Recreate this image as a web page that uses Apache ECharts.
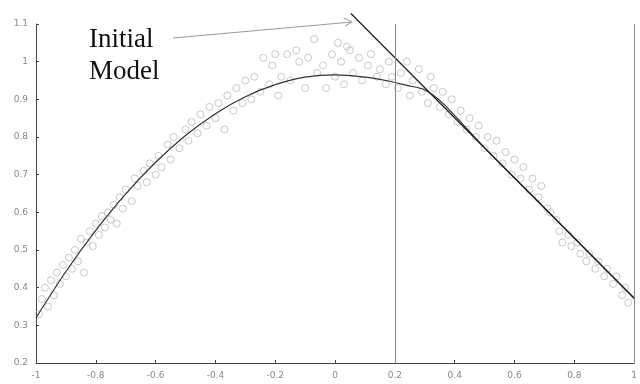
<!DOCTYPE html>
<html>
<head>
<meta charset="utf-8">
<script src="https://cdn.jsdelivr.net/npm/echarts@6/dist/echarts.min.js"></script>
<style>
  html, body { margin: 0; padding: 0; background: #fff; }
  #chart { width: 640px; height: 384px; }
</style>
</head>
<body>
<div id="chart"></div>
<script>
// noisy samples (circles)
var sampleX = [
  -0.99, -0.98, -0.97, -0.96, -0.95, -0.94, -0.93, -0.92, -0.91, -0.90,
  -0.89, -0.88, -0.87, -0.86, -0.85, -0.84, -0.83, -0.82, -0.81, -0.80,
  -0.79, -0.78, -0.77, -0.76, -0.75, -0.74, -0.73, -0.72, -0.71, -0.70,
  -0.68, -0.67, -0.66, -0.64, -0.63, -0.62, -0.60, -0.59, -0.58, -0.56,
  -0.55, -0.54, -0.52, -0.50, -0.49, -0.48, -0.46, -0.45, -0.43, -0.42,
  -0.40, -0.39, -0.37, -0.36, -0.34, -0.33, -0.31, -0.30, -0.28, -0.27,
  -0.25, -0.24, -0.22, -0.21, -0.20, -0.19, -0.18, -0.16, -0.15, -0.13,
  -0.12, -0.10, -0.09, -0.07, -0.06, -0.04, -0.03, -0.01, 0.00, 0.01,
  0.02, 0.03, 0.04, 0.05, 0.06, 0.08, 0.09, 0.11, 0.12, 0.14,
  0.15, 0.17, 0.18, 0.19,
  0.21, 0.22, 0.24, 0.25, 0.26, 0.28, 0.29, 0.31, 0.32, 0.33,
  0.35, 0.36, 0.38, 0.39, 0.41, 0.42, 0.44, 0.45, 0.47, 0.48,
  0.50, 0.51, 0.53, 0.54, 0.56, 0.57, 0.59, 0.60, 0.62, 0.63,
  0.65, 0.66, 0.68, 0.69, 0.71, 0.72, 0.74, 0.75, 0.76, 0.78,
  0.79, 0.81, 0.82, 0.84, 0.85, 0.87, 0.88, 0.90, 0.91, 0.93,
  0.94, 0.96, 0.97, 0.98
];
var sampleY = [
  0.33, 0.37, 0.40, 0.35, 0.42, 0.38, 0.44, 0.41, 0.46, 0.43,
  0.48, 0.45, 0.50, 0.47, 0.53, 0.44, 0.52, 0.55, 0.51, 0.57,
  0.54, 0.59, 0.56, 0.60, 0.58, 0.62, 0.57, 0.64, 0.61, 0.66,
  0.63, 0.69, 0.67, 0.71, 0.68, 0.73, 0.70, 0.75, 0.72, 0.78,
  0.74, 0.80, 0.77, 0.82, 0.79, 0.84, 0.81, 0.86, 0.83, 0.88,
  0.85, 0.89, 0.82, 0.91, 0.87, 0.93, 0.89, 0.95, 0.90, 0.96,
  0.92, 1.01, 0.94, 0.99, 1.02, 0.91, 0.96, 1.02, 0.95, 1.03,
  1.00, 0.93, 1.01, 1.06, 0.97, 0.99, 0.93, 1.02, 0.96, 1.05,
  1.00, 0.94, 1.04, 1.03, 0.97, 1.01, 0.95, 0.99, 1.02, 0.96,
  0.98, 0.94, 1.00, 0.96,
  0.93, 0.97, 1.00, 0.91, 0.95, 0.98, 0.92, 0.89, 0.96, 0.93,
  0.88, 0.92, 0.86, 0.90, 0.84, 0.87, 0.82, 0.85, 0.80, 0.83,
  0.77, 0.80, 0.75, 0.79, 0.73, 0.76, 0.70, 0.74, 0.69, 0.72,
  0.66, 0.69, 0.64, 0.67, 0.61, 0.60, 0.58, 0.55, 0.52, 0.54,
  0.51, 0.52, 0.49, 0.47, 0.49, 0.45, 0.47, 0.43, 0.45, 0.41,
  0.43, 0.38, 0.40, 0.36
];

// fitted model curve
var fitX = [-1.0, -0.9, -0.8, -0.7, -0.6, -0.5, -0.4, -0.3, -0.2, -0.1, 0.0, 0.1, 0.17, 0.24, 0.3, 0.36, 0.5, 0.7, 0.9, 1.0];
var fitY = [0.32, 0.443, 0.552, 0.649, 0.733, 0.804, 0.862, 0.907, 0.939, 0.959, 0.965, 0.959, 0.95, 0.937, 0.925, 0.89, 0.771, 0.612, 0.452, 0.372];

// initial model (straight line)
var initX = [0.053, 1.0];
var initY = [1.128, 0.372];

// vertical split lines
var splitX = [0.2, 1];

function zip(xs, ys) {
    var arr = [];
    for (var i = 0; i < xs.length; i++) {
        arr.push([xs[i], ys[i]]);
    }
    return arr;
}

var chart = echarts.init(document.getElementById('chart'));

var option = {
    animation: false,
    grid: { left: 36, right: 3, top: 24, bottom: 21 },
    xAxis: {
        type: 'value',
        min: -1, max: 1, interval: 0.2,
        axisLine: { onZero: false, lineStyle: { color: '#444', width: 1 } },
        axisTick: { inside: true, length: 3, lineStyle: { color: '#444' } },
        axisLabel: { color: '#888', fontSize: 9, margin: 8, fontFamily: 'DejaVu Sans' },
        splitLine: { show: false }
    },
    yAxis: {
        type: 'value',
        min: 0.2, max: 1.1, interval: 0.1,
        axisLine: { show: true, onZero: false, lineStyle: { color: '#444', width: 1 } },
        axisTick: { show: true, inside: true, length: 3, lineStyle: { color: '#444' } },
        axisLabel: { color: '#888', fontSize: 9, margin: 8, fontFamily: 'DejaVu Sans' },
        splitLine: { show: false }
    },
    series: [
        {
            type: 'scatter',
            data: zip(sampleX, sampleY),
            symbol: 'circle',
            symbolSize: 7,
            silent: true,
            itemStyle: { color: 'rgba(0,0,0,0)', borderColor: '#aaa', borderWidth: 0.8 },
            markLine: {
                silent: true,
                symbol: ['none', 'none'],
                label: { show: false },
                lineStyle: { color: '#888', type: 'solid', width: 1 },
                data: splitX.map(function (v) { return { xAxis: v }; })
            }
        },
        {
            type: 'line',
            data: zip(fitX, fitY),
            showSymbol: false,
            smooth: 0.3,
            silent: true,
            lineStyle: { color: '#333', width: 1.2 }
        },
        {
            type: 'line',
            data: zip(initX, initY),
            showSymbol: false,
            clip: false,
            silent: true,
            lineStyle: { color: '#222', width: 1.3 }
        }
    ],
    graphic: [
        {
            type: 'text', left: 89, top: 26,
            style: { text: 'Initial', font: '27px "Liberation Serif"', fill: '#111' }
        },
        {
            type: 'text', left: 89, top: 58,
            style: { text: 'Model', font: '27px "Liberation Serif"', fill: '#111' }
        },
        {
            type: 'line',
            shape: { x1: 173, y1: 38, x2: 352, y2: 22 },
            style: { stroke: '#999', lineWidth: 1 }
        },
        {
            type: 'polyline',
            shape: { points: [[344, 18], [352, 22], [345, 26]] },
            style: { stroke: '#999', lineWidth: 1, fill: null }
        }
    ]
};

chart.setOption(option);
</script>
</body>
</html>
